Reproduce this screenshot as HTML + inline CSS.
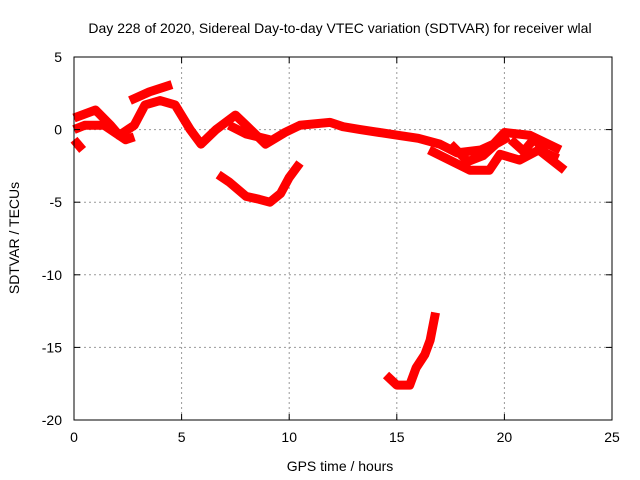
<!DOCTYPE html>
<html><head><meta charset="utf-8"><style>
body{margin:0;background:#fff}
svg{display:block;font-family:"Liberation Sans",sans-serif}
</style></head><body>
<svg id="chart" width="640" height="480">
<rect width="640" height="480" fill="#fff"/>
<text x="340" y="33" font-size="14" text-anchor="middle">Day 228 of 2020, Sidereal Day-to-day VTEC variation (SDTVAR) for receiver wlal</text>
<text x="340" y="471" font-size="14" text-anchor="middle">GPS time / hours</text>
<text transform="translate(19,238) rotate(-90)" font-size="14" text-anchor="middle">SDTVAR / TECUs</text>
<g id="grid"></g><g id="series"></g><g id="axes"></g>
</svg>
<script>
const xTicks=[0,5,10,15,20,25];
const yTicks=[5,0,-5,-10,-15,-20];
const s1x=[0,1,1.7,2.1,2.8,3.3,4,4.7,5.4,5.9,6.6,7.5,8,8.9,9.8,10.5,11.9,12.5,13.3,14.2,15.1,16,17,17.8,18.9,19.5,20,21.2,22.6];
const s1y=[0.8,1.35,0.3,-0.4,0.3,1.7,2.0,1.7,0,-1.0,0,1.0,0.3,-1.0,-0.2,0.3,0.5,0.2,0,-0.2,-0.4,-0.6,-1.0,-1.6,-1.4,-1.0,-0.2,-0.4,-1.4];
const s2x=[0,0.5,1.4,2.4,2.8];
const s2y=[0,0.3,0.3,-0.7,-0.5];
const s3x=[0,0.4];
const s3y=[-0.7,-1.4];
const s4x=[2.6,3.5,4.55];
const s4y=[2.0,2.6,3.1];
const s5x=[7.2,8,9.1];
const s5y=[0.3,-0.3,-0.7];
const s6x=[16.5,18.4,19.3,19.8,20.7,21.6,22.8];
const s6y=[-1.4,-2.8,-2.8,-1.7,-2.1,-1.4,-2.8];
const s7x=[6.7,7.2,8,8.6,9.1,9.6,10.0,10.5];
const s7y=[-3.1,-3.6,-4.6,-4.8,-5.0,-4.4,-3.3,-2.3];
const s8x=[14.5,15,15.6,15.9,16.3,16.55,16.8];
const s8y=[-16.9,-17.6,-17.6,-16.4,-15.5,-14.5,-12.6];
const s9x=[17.5,18.3,19,19.6,20.2];
const s9y=[-1.0,-2.2,-1.8,-1.0,-0.5];
const s10x=[20.3,20.9,21.4,21.9,22.5];
const s10y=[-0.7,-1.5,-0.6,-1.6,-2.0];
const L=74,R=612,T=57,B=420;
const X=h=>L+(h-0)/25*(R-L);
const Y=v=>T+(5-v)/25*(B-T);
const NS="http://www.w3.org/2000/svg";
function mk(t,a,p){const e=document.createElementNS(NS,t);for(const k in a)e.setAttribute(k,a[k]);p.appendChild(e);return e;}
const grid=document.getElementById('grid'),axes=document.getElementById('axes'),ser=document.getElementById('series');
xTicks.forEach(t=>{
 if(t>0&&t<25){const g=mk('line',{x1:X(t),x2:X(t),y1:T,y2:B,stroke:'#999','stroke-dasharray':'2,3'},grid);
 
 }
 const tx=mk('text',{x:X(t),y:B+22,'font-size':14,'text-anchor':'middle'},axes);tx.textContent=t;
 
 
 mk('line',{x1:X(t),x2:X(t),y1:B,y2:B-6,stroke:'#000'},axes);mk('line',{x1:X(t),x2:X(t),y1:T,y2:T+6,stroke:'#000'},axes);
});
yTicks.forEach(t=>{
 if(t<5&&t>-20){const g=mk('line',{x1:L,x2:R,y1:Y(t),y2:Y(t),stroke:'#999','stroke-dasharray':'2,3'},grid);
 
 }
 const tx=mk('text',{x:L-12,y:Y(t)+5,'font-size':14,'text-anchor':'end'},axes);tx.textContent=t;
 
 
 mk('line',{x1:L,x2:L+6,y1:Y(t),y2:Y(t),stroke:'#000'},axes);mk('line',{x1:R,x2:R-6,y1:Y(t),y2:Y(t),stroke:'#000'},axes);
});
const fr=mk('rect',{x:L,y:T,width:R-L,height:B-T,fill:'none',stroke:'#000'},axes);


[[s1x,s1y],[s2x,s2y],[s3x,s3y],[s4x,s4y],[s5x,s5y],[s6x,s6y],[s7x,s7y],[s8x,s8y],[s9x,s9y],[s10x,s10y]].forEach((s,i)=>{
 const pts=s[0].map((h,j)=>X(h)+','+Y(s[1][j])).join(' ');
 const p=mk('polyline',{points:pts,fill:'none',stroke:'#f00','stroke-width':9,'stroke-linejoin':'round','stroke-linecap':'butt'},ser);
 
 
});
</script>
</body></html>
